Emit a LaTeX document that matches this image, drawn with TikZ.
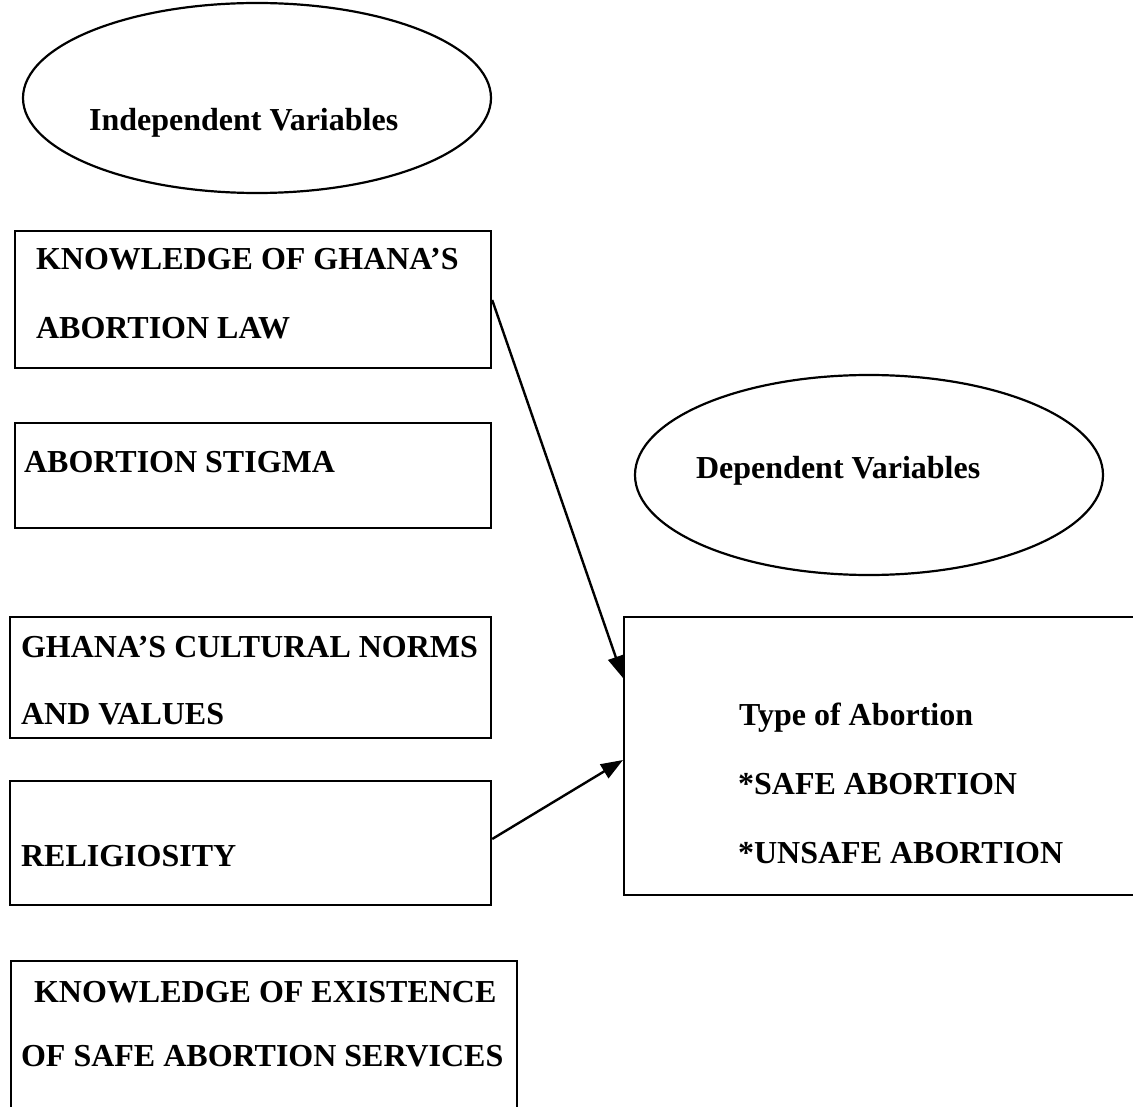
\documentclass[tikz,border=0pt]{standalone}
\usepackage{fontspec}
\setmainfont{Liberation Serif}
\usetikzlibrary{arrows.meta,shapes.geometric}
\begin{document}
\begin{tikzpicture}[x=1pt,y=-1pt,
  line width=2.2pt,
  oval/.style={draw,ellipse,inner sep=0pt},
  boxn/.style={draw,rectangle,inner sep=0pt,anchor=north west},
  txt/.style={anchor=base west,inner sep=0pt,font=\fontsize{32}{38}\selectfont\bfseries},
  arr/.style={-{Triangle[length=22pt,width=16pt]},line width=2.4pt}]
\useasboundingbox (0,0) rectangle (1133,1107);
\clip (0,0) rectangle (1133,1107);
\fill[white] (0,0) rectangle (1133,1107);
% ellipses
\node[oval,minimum width=468pt,minimum height=190pt] (e1) at (257,98) {};
\node[txt] (t1) at (88,131) {Independent Variables};
\node[oval,minimum width=468pt,minimum height=200pt] (e2) at (869,475) {};
\node[txt] (t2) at (695,478) {Dependent Variables};
% left boxes
\node[boxn,minimum width=476pt,minimum height=137pt] (b1) at (14,230) {};
\node[txt] (b1a) at (35,270) {KNOWLEDGE OF GHANA’S};
\node[txt] (b1b) at (35,339) {ABORTION LAW};
\node[boxn,minimum width=476pt,minimum height=105pt] (b2) at (14,422) {};
\node[txt] (b2a) at (23,472) {ABORTION STIGMA};
\node[boxn,minimum width=481pt,minimum height=121pt] (b3) at (9,616) {};
\node[txt] (b3a) at (20,657) {GHANA’S CULTURAL NORMS};
\node[txt] (b3b) at (20,724) {AND VALUES};
\node[boxn,minimum width=481pt,minimum height=124pt] (b4) at (9,780) {};
\node[txt] (b4a) at (20,866) {RELIGIOSITY};
\node[boxn,minimum width=506pt,minimum height=200pt] (b5) at (10,960) {};
\node[txt] (b5a) at (33,1002) {KNOWLEDGE OF EXISTENCE};
\node[txt] (b5b) at (20,1066) {OF SAFE ABORTION SERVICES};
% right box
\node[boxn,minimum width=560pt,minimum height=278pt] (rb) at (623,616) {};
\node[txt] (r1) at (738,725) {Type of Abortion};
\node[txt] (r2) at (737,794) {*SAFE ABORTION};
\node[txt] (r3) at (737,863) {*UNSAFE ABORTION};
% connectors
\coordinate (s1) at (b1.east |- 0,300);
\coordinate (h1) at (rb.west |- 0,678);
\coordinate (s2) at (b4.east |- 0,839);
\coordinate (h2) at (rb.west |- 0,760);
\draw[arr] (s1) -- (h1);
\draw[arr] (s2) -- (h2);
\end{tikzpicture}
\end{document}
